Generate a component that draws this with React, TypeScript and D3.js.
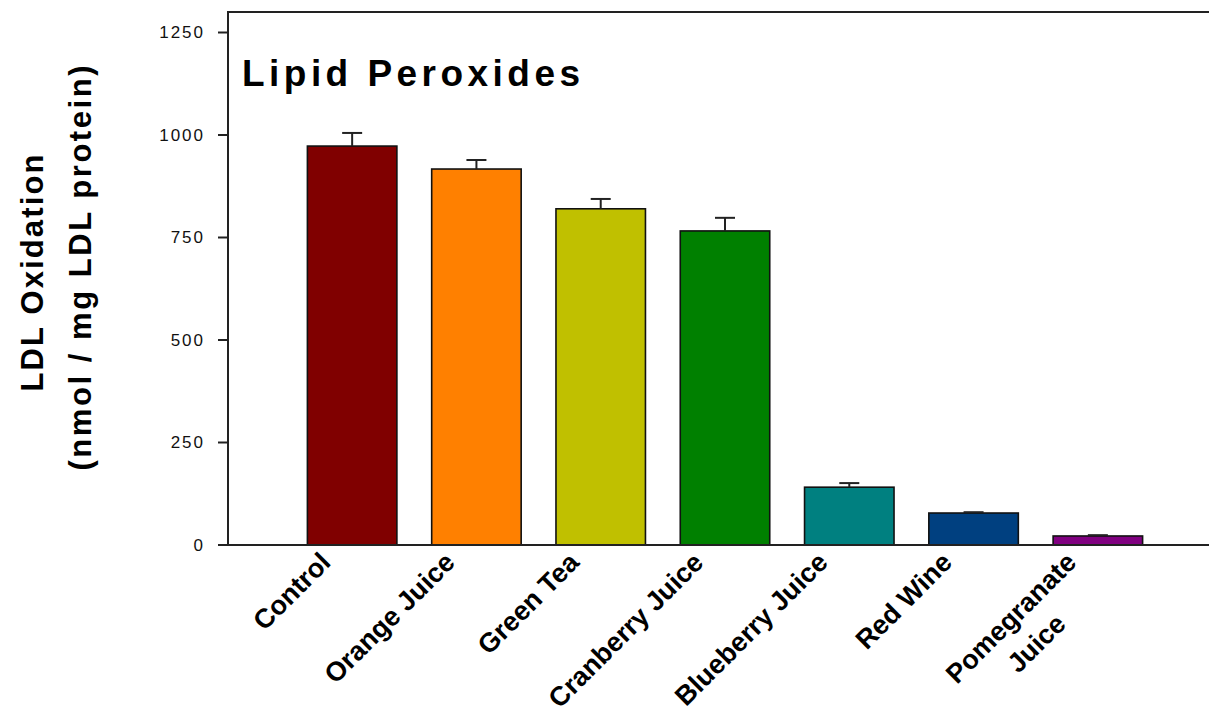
import React, { useEffect, useRef } from 'react';
import * as d3 from 'd3';

// --- Data ---
const categories = ['Control', 'Orange Juice', 'Green Tea', 'Cranberry Juice', 'Blueberry Juice', 'Red Wine', 'Pomegranate Juice'];
const labelLines = [['Control'], ['Orange Juice'], ['Green Tea'], ['Cranberry Juice'], ['Blueberry Juice'], ['Red Wine'], ['Pomegranate', 'Juice']];
const values = [973, 917, 820, 766, 141, 78, 22];
const errors = [32, 22, 24, 32, 10, 2, 2];
const barColors = ['#800000', '#ff8000', '#c0c000', '#008000', '#008080', '#004080', '#800080'];
const yTicks = [0, 250, 500, 750, 1000, 1250];

const W = 1209;
const H = 722;
const FONT = '"Liberation Sans", Arial, sans-serif';

const App = () => {
    const svgRef = useRef<SVGSVGElement>(null);

    useEffect(() => {
        if (!svgRef.current) return;
        const svg = d3.select(svgRef.current);
        svg.selectAll('*').remove();

        const left = 228, top = 12, bottom = 545;

        const x = d3.scaleBand()
            .domain(categories)
            .range([290, 1160])
            .paddingInner(0.28)
            .paddingOuter(0.14);

        const y = d3.scaleLinear().domain([0, 1300]).range([bottom, top]);

        // frame: top line + left axis + bottom axis
        const axisColor = '#222';
        svg.append('line').attr('x1', left).attr('x2', W).attr('y1', top).attr('y2', top)
            .attr('stroke', axisColor).attr('stroke-width', 2);

        // bars
        svg.selectAll('.bar')
            .data(values)
            .enter().append('rect')
            .attr('x', (d, i) => x(categories[i])!)
            .attr('y', d => y(d))
            .attr('width', x.bandwidth())
            .attr('height', d => y(0) - y(d))
            .attr('fill', (d, i) => barColors[i])
            .attr('stroke', '#111')
            .attr('stroke-width', 1.6);

        // error bars (upper only)
        const cap = 20;
        values.forEach((v, i) => {
            const cx = x(categories[i])! + x.bandwidth() / 2;
            svg.append('line').attr('x1', cx).attr('x2', cx)
                .attr('y1', y(v)).attr('y2', y(v + errors[i]))
                .attr('stroke', axisColor).attr('stroke-width', 2);
            svg.append('line').attr('x1', cx - cap / 2).attr('x2', cx + cap / 2)
                .attr('y1', y(v + errors[i])).attr('y2', y(v + errors[i]))
                .attr('stroke', axisColor).attr('stroke-width', 2);
        });

        svg.append('line').attr('x1', left).attr('x2', W).attr('y1', bottom).attr('y2', bottom)
            .attr('stroke', axisColor).attr('stroke-width', 2);
        svg.append('line').attr('x1', left).attr('x2', left).attr('y1', top - 1).attr('y2', bottom + 1)
            .attr('stroke', axisColor).attr('stroke-width', 2);

        // y ticks
        const yt = svg.append('g');
        yTicks.forEach(t => {
            yt.append('line').attr('x1', left - 10).attr('x2', left).attr('y1', y(t)).attr('y2', y(t))
                .attr('stroke', axisColor).attr('stroke-width', 2);
            yt.append('text')
                .attr('x', 205).attr('y', y(t))
                .attr('dy', '0.35em')
                .attr('text-anchor', 'end')
                .attr('font-family', FONT)
                .attr('font-size', 17)
                .attr('letter-spacing', 2)
                .attr('fill', '#111')
                .text(t);
        });

        // x labels, rotated -45
        labelLines.forEach((lines, i) => {
            const cx = x(categories[i])! + x.bandwidth() / 2;
            const g = svg.append('g').attr('transform', `translate(${cx - 20},564) rotate(-45)`);
            const first = g.append('text')
                .attr('text-anchor', 'end')
                .attr('font-family', FONT).attr('font-weight', 'bold').attr('font-size', 27)
                .attr('fill', '#000')
                .text(lines[0]);
            if (lines.length > 1) {
                const len = (first.node() as SVGTextElement).getComputedTextLength();
                lines.slice(1).forEach((ln, k) => {
                    g.append('text')
                        .attr('x', -len / 2).attr('y', 36 * (k + 1))
                        .attr('text-anchor', 'middle')
                        .attr('font-family', FONT).attr('font-weight', 'bold').attr('font-size', 27)
                        .attr('fill', '#000')
                        .text(ln);
                });
            }
        });

        // title
        svg.append('text')
            .attr('x', 242).attr('y', 86)
            .attr('font-family', FONT).attr('font-weight', 'bold').attr('font-size', 37)
            .attr('textLength', 338).attr('lengthAdjust', 'spacing')
            .attr('fill', '#000')
            .text('Lipid Peroxides');

        // y axis title
        const ytitle = [
            { text: 'LDL Oxidation', x: 43, y: 273, len: 237 },
            { text: '(nmol / mg LDL protein)', x: 91, y: 268, len: 405 },
        ];
        ytitle.forEach(t => {
            svg.append('text')
                .attr('transform', `translate(${t.x},${t.y}) rotate(-90)`)
                .attr('text-anchor', 'middle')
                .attr('font-family', FONT).attr('font-weight', 'bold').attr('font-size', 31)
                .attr('textLength', t.len).attr('lengthAdjust', 'spacing')
                .attr('fill', '#000')
                .text(t.text);
        });
    }, []);

    return (
        <svg ref={svgRef} width={W} height={H}
            style={{ position: 'absolute', left: 0, top: 0, background: '#fff' }} />
    );
};

export default App;
